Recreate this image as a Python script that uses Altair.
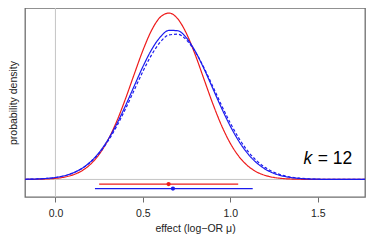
import altair as alt
import pandas as pd

# ---- data ----
x_grid = [-0.20, -0.15, -0.10, -0.05, 0.00, 0.05, 0.10, 0.15, 0.20, 0.25,
          0.30, 0.35, 0.40, 0.45, 0.50, 0.55, 0.60, 0.65, 0.70, 0.75,
          0.80, 0.85, 0.90, 0.95, 1.00, 1.05, 1.10, 1.15, 1.20, 1.25,
          1.30, 1.35, 1.40, 1.45, 1.50, 1.55, 1.60, 1.65, 1.70, 1.75, 1.80]

red_density = [0.0002, 0.0005, 0.0012, 0.0028, 0.0064, 0.0136, 0.0272, 0.0512, 0.0904, 0.1506,
               0.2360, 0.3478, 0.4828, 0.6306, 0.7749, 0.8963, 0.9757, 0.9997, 0.9640, 0.8748,
               0.7471, 0.6005, 0.4543, 0.3234, 0.2167, 0.1367, 0.0811, 0.0453, 0.0238, 0.0118,
               0.0055, 0.0024, 0.0010, 0.0004, 0.0001, 0, 0, 0, 0, 0, 0]

blue_density = [0.0006, 0.0014, 0.0029, 0.0060, 0.0117, 0.0218, 0.0387, 0.0654, 0.1056, 0.1623,
                0.2378, 0.3321, 0.4418, 0.5602, 0.6772, 0.7799, 0.8562, 0.8958, 0.8932, 0.8489,
                0.7688, 0.6636, 0.5459, 0.4281, 0.3198, 0.2277, 0.1546, 0.1000, 0.0616, 0.0362,
                0.0203, 0.0108, 0.0055, 0.0027, 0.0012, 0.0005, 0.0002, 0.0001, 0, 0, 0]

blue_dashed_density = [0.0007, 0.0015, 0.0031, 0.0062, 0.0119, 0.0219, 0.0385, 0.0645, 0.1031, 0.1573,
                       0.2292, 0.3184, 0.4228, 0.5359, 0.6483, 0.7487, 0.8254, 0.8687, 0.8727, 0.8370,
                       0.7663, 0.6697, 0.5588, 0.4450, 0.3384, 0.2455, 0.1701, 0.1126, 0.0710, 0.0428,
                       0.0246, 0.0135, 0.0071, 0.0036, 0.0017, 0.0008, 0.0003, 0.0001, 0, 0, 0]

series_names = ["red", "blue", "blue_dashed"]
series_colors = ["#EE1A1A", "#1A1AEE", "#1A1AEE"]
series_dashes = [[1, 0], [1, 0], [3, 2]]

interval_series = ["red", "blue"]
interval_lo = [0.250, 0.226]
interval_hi = [1.045, 1.128]
interval_mid = [0.647, 0.672]
interval_y = [-0.028, -0.055]

x_ticks = [0.0, 0.5, 1.0, 1.5]
label_x = [1.697]
label_y = [0.092]

# ---- tables ----
rows = []
for name, vals in zip(series_names, [red_density, blue_density, blue_dashed_density]):
    for xv, yv in zip(x_grid, vals):
        rows.append({"x": xv, "y": yv, "series": name})
curves = pd.DataFrame(rows)

intervals = pd.DataFrame({"series": interval_series, "lo": interval_lo,
                          "hi": interval_hi, "x": interval_mid, "y": interval_y})
label_df = pd.DataFrame({"x": label_x, "y": label_y})

xscale = alt.Scale(domain=[-0.174, 1.77], nice=False, zero=False)
yscale = alt.Scale(domain=[-0.1056, 1.030], nice=False, zero=False)
xaxis = alt.Axis(title="effect (log\u2212OR \u03bc)", values=x_ticks, format=".1f",
                 ticks=True, tickSize=5, tickColor="#6e6e6e", labelPadding=6,
                 titlePadding=5)
yaxis = alt.Axis(title="probability density", labels=False, ticks=False, titlePadding=7)

color_scale = alt.Scale(domain=series_names, range=series_colors)
dash_scale = alt.Scale(domain=series_names, range=series_dashes)

vline = alt.Chart(pd.DataFrame({"x": [0.0]})).mark_rule(color="#c4c4c4", strokeWidth=1).encode(
    x=alt.X("x:Q", scale=xscale, axis=xaxis))
hline = alt.Chart(pd.DataFrame({"y": [0.0]})).mark_rule(color="#c4c4c4", strokeWidth=1).encode(
    y=alt.Y("y:Q", scale=yscale, axis=yaxis))

lines = alt.Chart(curves).mark_line(clip=True, strokeWidth=1.2, interpolate="monotone").encode(
    x=alt.X("x:Q", scale=xscale, axis=xaxis),
    y=alt.Y("y:Q", scale=yscale, axis=yaxis),
    color=alt.Color("series:N", scale=color_scale, legend=None),
    strokeDash=alt.StrokeDash("series:N", scale=dash_scale, legend=None),
    order=alt.Order("x:Q"),
)

irules = alt.Chart(intervals).mark_rule(strokeWidth=1.2).encode(
    x=alt.X("lo:Q", scale=xscale, axis=xaxis),
    x2="hi:Q",
    y=alt.Y("y:Q", scale=yscale, axis=yaxis),
    color=alt.Color("series:N", scale=color_scale, legend=None),
)
ipoints = alt.Chart(intervals).mark_point(filled=True, shape="circle", size=18, opacity=1).encode(
    x=alt.X("x:Q", scale=xscale, axis=xaxis),
    y=alt.Y("y:Q", scale=yscale, axis=yaxis),
    color=alt.Color("series:N", scale=color_scale, legend=None),
)

txt_eq = alt.Chart(label_df).mark_text(text="= 12", align="right", baseline="alphabetic",
                                       fontSize=17.5, font="Liberation Sans", color="black").encode(
    x=alt.X("x:Q", scale=xscale, axis=xaxis), y=alt.Y("y:Q", scale=yscale, axis=yaxis))
txt_k = alt.Chart(label_df).mark_text(text="k", align="right", baseline="alphabetic", dx=-40,
                                      fontSize=17.5, font="Liberation Sans", fontStyle="italic",
                                      color="black").encode(
    x=alt.X("x:Q", scale=xscale, axis=xaxis), y=alt.Y("y:Q", scale=yscale, axis=yaxis))

chart = alt.layer(vline, hline, lines, irules, ipoints, txt_eq, txt_k).properties(
    width=340, height=189,
    autosize=alt.AutoSizeParams(type="none"),
    padding={"left": 17, "top": 0, "right": 1, "bottom": 39},
).configure_view(
    stroke="#6e6e6e", strokeWidth=1.3
).configure_axis(
    grid=False, domain=False,
    labelFont="Liberation Sans", titleFont="Liberation Sans",
    labelFontSize=10.5, titleFontSize=10.5, titleFontWeight="normal",
    labelColor="#222222", titleColor="#222222",
)

chart.save("out.html", embed_options={"renderer": "svg", "actions": False})
